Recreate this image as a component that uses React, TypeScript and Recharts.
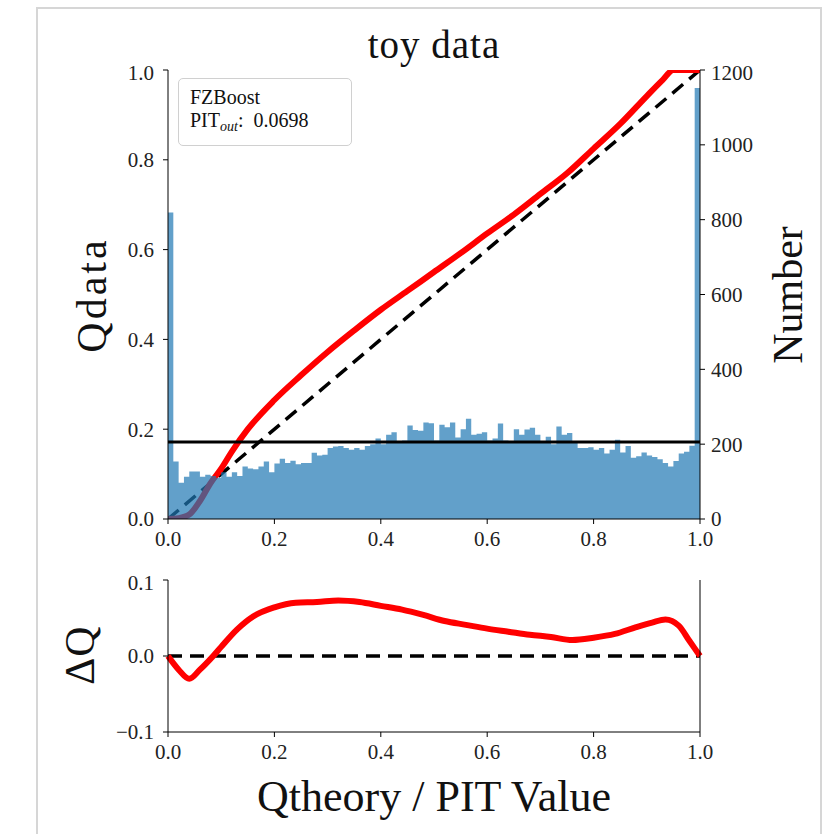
import React from 'react';
import {
  ComposedChart, Line, Area, XAxis, YAxis, ReferenceLine,
} from 'recharts';

// ---- data ----
const binCounts: number[] = [
  819, 154, 97, 113, 127, 127, 113, 118, 115, 110,
  125, 113, 125, 115, 140, 135, 133, 140, 154, 125,
  148, 161, 150, 156, 146, 150, 150, 177, 170, 172,
  190, 194, 195, 190, 185, 190, 185, 195, 200, 215,
  200, 225, 232, 205, 210, 250, 238, 236, 258, 256,
  210, 252, 245, 258, 218, 240, 268, 225, 228, 232,
  210, 215, 255, 210, 205, 240, 225, 239, 244, 225,
  207, 220, 200, 247, 225, 230, 205, 190, 190, 192,
  185, 190, 175, 185, 212, 178, 195, 164, 168, 178,
  170, 166, 160, 150, 140, 155, 175, 180, 196, 1152,
];
const binWidth = 0.01;
const meanCount = 206;

const qTheory: number[] = [0, 0.02, 0.04, 0.06, 0.08, 0.1, 0.12, 0.15, 0.2, 0.25, 0.3, 0.35, 0.4, 0.45, 0.5, 0.55, 0.6, 0.65, 0.7, 0.75, 0.8, 0.85, 0.9, 0.93, 0.95, 0.97, 1.0];
const qData: number[] = [0, 0.002, 0.01, 0.04, 0.08, 0.112, 0.15, 0.2, 0.265, 0.32, 0.372, 0.42, 0.466, 0.508, 0.55, 0.592, 0.636, 0.678, 0.724, 0.77, 0.825, 0.88, 0.942, 0.978, 1.0, 1.0, 1.0];

const dqTheory: number[] = [0, 0.02, 0.04, 0.06, 0.085, 0.1, 0.13, 0.16, 0.2, 0.24, 0.28, 0.32, 0.36, 0.4, 0.44, 0.48, 0.52, 0.56, 0.6, 0.64, 0.68, 0.72, 0.76, 0.8, 0.84, 0.88, 0.91, 0.935, 0.96, 0.98, 1.0];
const dqValues: number[] = [0, -0.018, -0.03, -0.018, 0, 0.012, 0.035, 0.052, 0.064, 0.07, 0.071, 0.073, 0.071, 0.066, 0.061, 0.054, 0.046, 0.041, 0.036, 0.032, 0.028, 0.025, 0.021, 0.024, 0.029, 0.038, 0.044, 0.048, 0.04, 0.02, 0];

const xTicks = [0, 0.2, 0.4, 0.6, 0.8, 1.0];
const leftTicks = [0, 0.2, 0.4, 0.6, 0.8, 1.0];
const rightTicks = [0, 200, 400, 600, 800, 1000, 1200];
const dqTicks = [-0.1, 0, 0.1];

const titleText = 'toy data';
const legendName = 'FZBoost';
const pitOutValue = '0.0698';

// ---- derived tables ----
const histData = [
  ...binCounts.map((c, i) => ({ x: i * binWidth, count: c })),
  { x: binCounts.length * binWidth, count: binCounts[binCounts.length - 1] },
];
const qqData = qTheory.map((x, i) => ({ x, q: qData[i] }));
const diagData = [{ x: 0, d: 0 }, { x: 1, d: 1 }];
const dqData = dqTheory.map((x, i) => ({ x, dq: dqValues[i] }));
const zeroData = [{ x: 0, z: 0 }, { x: 1, z: 0 }];

const FONT = '"Liberation Serif", "DejaVu Serif", serif';
const tickStyle = { fontFamily: FONT, fontSize: 21, fill: '#222' };
const fmt1 = (v: number) => (v < 0 ? '\u2212' : '') + Math.abs(v).toFixed(1);

const rotLabel = (left: number, top: number, spacing = 0): React.CSSProperties => ({
  position: 'absolute', left, top, transform: 'translate(-50%, -50%) rotate(-90deg)',
  fontSize: 42, whiteSpace: 'nowrap', color: '#111', letterSpacing: spacing, lineHeight: '46px',
});

export default function App() {
  return (
    <div style={{ position: 'absolute', left: 0, top: 0, width: 831, height: 834, background: '#fff', overflow: 'hidden', fontFamily: FONT }}>
      <div style={{ position: 'absolute', left: 36, top: 7, width: 786, height: 840, border: '2px solid #d6d6d6', boxSizing: 'border-box' }} />

      <div style={{ position: 'absolute', left: 168, width: 532, top: 22, textAlign: 'center', fontSize: 39, color: '#111', lineHeight: '46px', letterSpacing: 1 }}>{titleText}</div>

      <div style={{ position: 'absolute', left: 100, top: 60 }}>
        <ComposedChart width={660} height={504} margin={{ top: 10, right: 0, bottom: 0, left: 8 }}>
          <XAxis xAxisId="b" dataKey="x" type="number" domain={[0, 1]} ticks={xTicks} tickFormatter={fmt1}
            allowDataOverflow stroke="#000" tick={tickStyle} tickSize={5} tickMargin={7} height={45} />
          <XAxis xAxisId="t" orientation="top" dataKey="x" type="number" domain={[0, 1]} tick={false} tickLine={false} stroke="#000" height={0} />
          <YAxis yAxisId="l" type="number" domain={[0, 1]} ticks={leftTicks} tickFormatter={fmt1} allowDataOverflow
            stroke="#000" tick={tickStyle} tickSize={5} tickMargin={9} width={60} />
          <YAxis yAxisId="r" orientation="right" type="number" domain={[0, 1200]} ticks={rightTicks}
            stroke="#000" tick={{ ...tickStyle, textAnchor: 'start' }} tickSize={5} tickMargin={6} width={60} />
          <Line data={diagData} xAxisId="b" yAxisId="l" dataKey="d" stroke="#000" strokeWidth={3.5} strokeDasharray="14 8" dot={false} isAnimationActive={false} />
          <Line data={qqData} xAxisId="b" yAxisId="l" dataKey="q" stroke="#ff0000" strokeWidth={6} dot={false} type="monotone" isAnimationActive={false} />
          <Area data={histData} xAxisId="b" yAxisId="r" dataKey="count" type="stepAfter" fill="#1f77b4" fillOpacity={0.7} stroke="none" isAnimationActive={false} zIndex={450} />
          <ReferenceLine xAxisId="b" yAxisId="r" y={meanCount} stroke="#000" strokeWidth={3} zIndex={460} />
        </ComposedChart>
      </div>

      <div style={{ position: 'absolute', left: 178, top: 78, width: 174, height: 68, border: '1.5px solid #d0d0d0', borderRadius: 5, boxSizing: 'border-box', background: 'rgba(255,255,255,0.8)', padding: '7px 0 0 11px', fontSize: 20, lineHeight: '23px', color: '#111' }}>
        <div>{legendName}</div>
        <div>PIT<sub style={{ fontStyle: 'italic', fontSize: 14, verticalAlign: '-4px' }}>out</sub>:&nbsp; {pitOutValue}</div>
      </div>

      <div style={rotLabel(92, 295, 3)}>Qdata</div>
      <div style={rotLabel(788, 295, 0)}>Number</div>

      <div style={{ position: 'absolute', left: 100, top: 570 }}>
        <ComposedChart width={660} height={207} margin={{ top: 10, right: 0, bottom: 0, left: 8 }}>
          <XAxis xAxisId="b" dataKey="x" type="number" domain={[0, 1]} ticks={xTicks} tickFormatter={fmt1}
            stroke="#000" tick={tickStyle} tickSize={5} tickMargin={7} height={45} />
          <XAxis xAxisId="t" orientation="top" dataKey="x" type="number" domain={[0, 1]} tick={false} tickLine={false} stroke="#000" height={0} />
          <YAxis yAxisId="l" type="number" domain={[-0.1, 0.1]} ticks={dqTicks} tickFormatter={fmt1} allowDataOverflow
            stroke="#000" tick={tickStyle} tickSize={5} tickMargin={9} width={60} />
          <YAxis yAxisId="r" orientation="right" type="number" domain={[-0.1, 0.1]} tick={false} tickLine={false} stroke="#000" width={60} />
          <Line data={zeroData} xAxisId="b" yAxisId="l" dataKey="z" stroke="#000" strokeWidth={3.5} strokeDasharray="14 8" dot={false} isAnimationActive={false} />
          <Line data={dqData} xAxisId="b" yAxisId="l" dataKey="dq" stroke="#ff0000" strokeWidth={6} dot={false} type="monotone" isAnimationActive={false} />
        </ComposedChart>
      </div>

      <div style={rotLabel(80, 655, 1)}>{'\u0394Q'}</div>
      <div style={{ position: 'absolute', left: 168, width: 532, top: 772, textAlign: 'center', fontSize: 44, color: '#111', lineHeight: '50px' }}>Qtheory / PIT Value</div>
    </div>
  );
}
